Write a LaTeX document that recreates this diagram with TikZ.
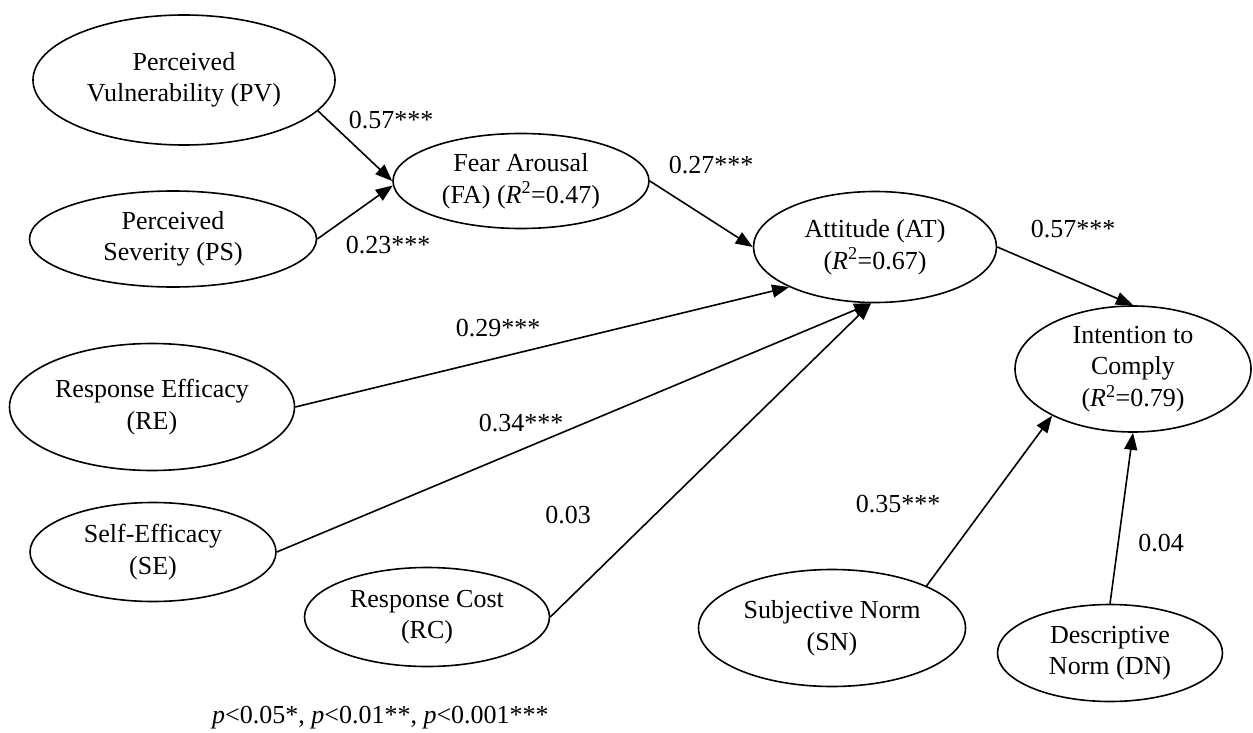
\documentclass[tikz,border=0pt]{standalone}
\usepackage{fontspec}
\setmainfont{Liberation Serif}
\usetikzlibrary{arrows.meta,shapes.geometric}
\begin{document}
\begin{tikzpicture}[x=1pt,y=-1pt,
  font=\fontsize{26}{31.5}\selectfont,
  construct/.style 2 args={draw,line width=1.6pt,ellipse,align=center,inner sep=0pt,
    minimum width=#1,minimum height=#2},
  path/.style={line width=1.6pt,-{Triangle[length=17pt,width=13pt]}},
  coef/.style={inner sep=0pt}]
\useasboundingbox (0,0) rectangle (1253,733);
% latent constructs
\node[construct={302pt}{130pt}] (PV) at (184,80) {Perceived\\Vulnerability (PV)};
\node[construct={287pt}{96pt}] (PS) at (173,239) {Perceived\\Severity (PS)};
\node[construct={256pt}{95pt}] (FA) at (521,181) {Fear Arousal\\(FA) (\textit{R}\textsuperscript{2}=0.47)};
\node[construct={243pt}{111pt}] (AT) at (875,247) {Attitude (AT)\\(\textit{R}\textsuperscript{2}=0.67)};
\node[construct={236pt}{126pt}] (IC) at (1133,369) {Intention to\\Comply\\(\textit{R}\textsuperscript{2}=0.79)};
\node[construct={285pt}{127pt}] (RE) at (152,407) {Response Efficacy\\(RE)};
\node[construct={246pt}{99pt}] (SE) at (153,552) {Self-Efficacy\\(SE)};
\node[construct={245pt}{99pt}] (RC) at (427,617) {Response Cost\\(RC)};
\node[construct={267pt}{117pt}] (SN) at (832,628) {Subjective Norm\\(SN)};
\node[construct={225pt}{97pt}] (DN) at (1110,653) {Descriptive\\Norm (DN)};
% structural paths
\draw[path] (PV.-13) -- (FA.west);
\draw[path] (PS.east) -- (FA.182);
\draw[path] (FA.east) -- (AT.west);
\draw[path] (AT.east) -- (IC.north);
\draw[path] (RE.east) -- (AT.205);
\draw[path] (SE.east) -- (AT.266);
\draw[path] (RC.east) -- (AT.266);
\draw[path] (SN.24) -- (IC.210);
\draw[path] (DN.north) -- (IC.south);
% path coefficients
\node[coef] (c1) at (391,120) {0.57***};
\node[coef] (c2) at (388,245) {0.23***};
\node[coef] (c3) at (711,165) {0.27***};
\node[coef] (c4) at (1073,229) {0.57***};
\node[coef] (c5) at (498,328) {0.29***};
\node[coef] (c6) at (521,423) {0.34***};
\node[coef] (c7) at (568,515) {0.03};
\node[coef] (c8) at (898,504) {0.35***};
\node[coef] (c9) at (1161,543) {0.04};
\node[coef,anchor=west] (note) at (212,718) {\textit{p}<0.05*, \textit{p}<0.01**, \textit{p}<0.001***};
\end{tikzpicture}
\end{document}
